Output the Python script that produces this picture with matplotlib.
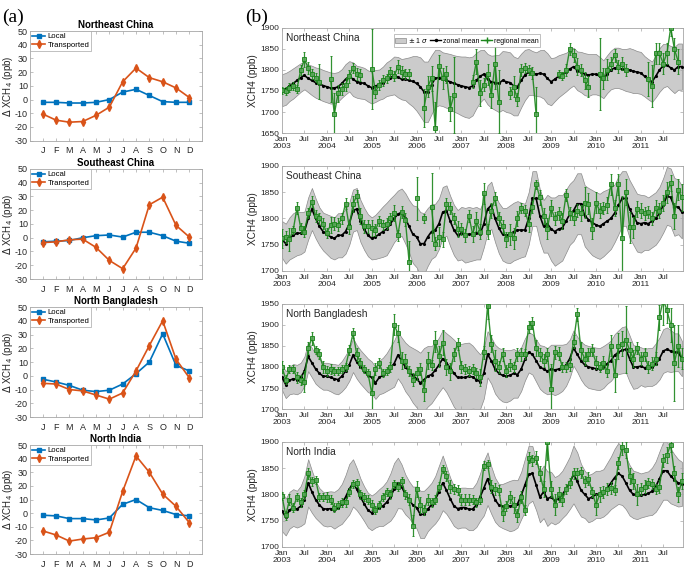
import numpy as np
import matplotlib.pyplot as plt
from matplotlib.patches import Patch
from matplotlib.lines import Line2D

plt.rcParams['font.family'] = ['Liberation Sans', 'DejaVu Sans']
plt.rcParams['axes.unicode_minus'] = False

nan = np.nan

# ---------------- (a) monthly anomalies ----------------
month_labels = ['J', 'F', 'M', 'A', 'M', 'J', 'J', 'A', 'S', 'O', 'N', 'D']
regions = ['Northeast China', 'Southeast China', 'North Bangladesh', 'North India']

local_ne = [-2, -2, -2.5, -2.5, -2, 0, 5.5, 7.5, 3, -1.5, -2, -2]
trans_ne = [-10.5, -15, -16.5, -16, -11.5, -5.5, 13, 23, 16, 13, 8.5, 1.5]
local_se = [-3, -2.5, -2, 0, 1.5, 2, 0.5, 4, 4, 1.5, -2.5, -4]
trans_se = [-3.5, -3, -1.5, -1, -7, -16.5, -22.5, -7.5, 24, 29.5, 9, 0.5]
local_bd = [-2.5, -4.5, -7, -10.5, -11.5, -10.5, -6, 1.5, 10, 30.5, 7.5, 3.5]
trans_bd = [-5.5, -6, -10, -11, -14, -17, -12.5, 3.5, 22, 40, 12, -1.5]
local_ni = [-1.5, -2, -4, -4, -5, -3.5, 6.5, 10, 4, 2, -1, -2]
trans_ni = [-13, -16, -20.5, -19, -18, -14, 16, 42, 30, 14, 5, -7]
trans_err = [1.5, 1.5, 1.5, 1.5, 1.5, 1.5, 1.5, 1.5, 1.5, 1.5, 1.5, 1.5]

local_all = [local_ne, local_se, local_bd, local_ni]
trans_all = [trans_ne, trans_se, trans_bd, trans_ni]

# ---------------- (b) time series, monthly Jan 2003 - Dec 2011 ----------------
years = list(range(2003, 2012))

zonal_ne = [1752, 1755, 1762, 1768, 1775, 1782, 1787, 1780, 1775, 1770, 1767, 1763,
            1760, 1757, 1757, 1760, 1768, 1778, 1785, 1778, 1772, 1770, 1768, 1762,
            1758, 1762, 1765, 1770, 1778, 1782, 1787, 1783, 1778, 1778, 1775, 1773,
            1768, 1760, 1748, 1748, 1765, 1780, 1782, 1778, 1775, 1772, 1768, 1765,
            1762, 1760, 1758, 1762, 1775, 1785, 1790, 1778, 1772, 1770, 1768, 1775,
            1772, 1770, 1762, 1760, 1775, 1788, 1795, 1793, 1790, 1792, 1790, 1780,
            1772, 1778, 1785, 1790, 1795, 1802, 1808, 1798, 1795, 1790, 1788, 1790,
            1790, 1785, 1778, 1790, 1800, 1805, 1805, 1802, 1800, 1800, 1797, 1795,
            1793, 1785, 1778, 1772, 1785, 1800, 1810, 1812, 1805, 1800, 1808, 1808]
sigma_ne = [38, 38, 36, 36, 35, 34, 33, 33, 35, 36, 37, 37,
            37, 37, 36, 35, 34, 36, 36, 40, 38, 38, 37, 37,
            38, 38, 36, 38, 40, 42, 45, 48, 48, 50, 55, 60,
            65, 70, 72, 72, 70, 68, 66, 64, 65, 66, 67, 68,
            70, 72, 72, 70, 66, 62, 58, 60, 62, 65, 68, 70,
            72, 72, 70, 68, 64, 60, 55, 52, 52, 55, 58, 60,
            56, 52, 50, 48, 46, 45, 45, 46, 48, 50, 50, 48,
            48, 46, 45, 45, 46, 48, 48, 48, 50, 52, 52, 50,
            50, 48, 48, 48, 50, 52, 52, 50, 52, 55, 55, 55]
region_ne = [1752, 1750, 1758, 1762, 1755, 1800, 1825, 1805, 1790, 1782, 1772, nan,
             nan, 1778, 1695, 1745, 1755, 1765, 1785, 1805, 1790, 1788, nan, nan,
             1803, 1748, 1765, 1775, 1780, 1795, 1785, 1808, 1795, 1790, 1790, nan,
             nan, nan, 1710, 1760, 1780, 1663, 1810, 1780, 1790, 1708, 1740, nan,
             nan, nan, nan, 1772, 1820, 1745, 1765, 1790, 1740, 1815, 1725, nan,
             nan, 1745, 1760, 1730, 1800, 1805, 1800, 1793, 1695, nan, nan, nan,
             nan, nan, 1790, 1785, 1800, 1850, 1835, 1808, 1800, 1775, 1760, nan,
             nan, 1790, 1780, 1800, 1815, 1835, 1808, 1815, 1800, nan, nan, nan,
             nan, nan, 1778, 1762, 1840, 1840, 1815, 1840, 1900, 1850, 1820, nan]
err_ne = [8, 10, 10, 10, 10, 12, 18, 15, 12, 10, 42, 0,
          0, 55, 50, 20, 15, 15, 15, 12, 15, 15, 0, 0,
          95, 15, 12, 12, 10, 12, 12, 15, 15, 12, 12, 0,
          0, 0, 45, 25, 30, 60, 25, 25, 20, 30, 90, 0,
          0, 0, 0, 15, 30, 30, 15, 25, 30, 60, 75, 0,
          0, 15, 25, 15, 15, 12, 12, 15, 65, 0, 0, 0,
          0, 0, 10, 10, 15, 15, 15, 20, 15, 20, 25, 0,
          0, 85, 25, 25, 15, 15, 15, 15, 15, 0, 0, 0,
          0, 0, 40, 50, 25, 25, 25, 25, 20, 25, 30, 0]

zonal_se = [1760, 1752, 1762, 1768, 1772, 1772, 1775, 1800, 1818, 1800, 1785, 1775,
            1770, 1765, 1762, 1768, 1768, 1775, 1790, 1815, 1818, 1795, 1780, 1768,
            1762, 1765, 1770, 1775, 1780, 1790, 1800, 1808, 1812, 1800, 1785, 1770,
            1765, 1752, 1752, 1765, 1775, 1778, 1790, 1812, 1815, 1795, 1778, 1768,
            1772, 1768, 1770, 1770, 1772, 1770, 1790, 1818, 1825, 1800, 1782, 1770,
            1768, 1770, 1775, 1778, 1778, 1778, 1800, 1838, 1838, 1805, 1785, 1790,
            1780, 1775, 1780, 1782, 1795, 1808, 1815, 1828, 1828, 1805, 1798, 1792,
            1788, 1785, 1790, 1795, 1800, 1810, 1825, 1838, 1838, 1818, 1805, 1792,
            1790, 1792, 1790, 1795, 1800, 1810, 1825, 1843, 1840, 1822, 1822, 1812]
sigma_se = [35, 38, 40, 42, 42, 40, 38, 40, 40, 38, 36, 36,
            38, 40, 40, 42, 42, 42, 40, 40, 40, 40, 40, 40,
            40, 42, 45, 48, 50, 48, 45, 45, 45, 48, 50, 55,
            58, 60, 58, 55, 52, 50, 48, 48, 48, 48, 48, 48,
            50, 52, 52, 50, 50, 48, 45, 45, 45, 45, 48, 50,
            52, 55, 55, 55, 52, 50, 50, 52, 52, 50, 50, 55,
            60, 65, 65, 62, 60, 58, 58, 58, 58, 58, 60, 62,
            62, 62, 62, 60, 58, 55, 55, 52, 52, 55, 55, 55,
            55, 52, 50, 50, 50, 50, 52, 55, 55, 55, 52, 50]
region_se = [1762, 1765, 1760, 1778, 1820, 1782, 1775, 1810, 1832, 1805, 1800, 1790,
             1772, 1788, 1790, 1788, 1800, 1828, 1783, 1828, 1843, 1805, 1785, 1785,
             1782, 1778, 1795, 1788, 1790, 1800, 1810, 1768, 1812, 1798, 1718, nan,
             1838, nan, 1800, nan, 1822, 1752, 1765, 1760, 1828, 1820, 1800, 1780,
             1780, 1768, 1805, 1770, 1795, 1775, 1848, 1775, 1815, 1838, 1800, 1785,
             1760, 1770, 1762, 1800, 1820, 1815, 1790, 1822, 1865, 1840, 1805, 1780,
             1820, 1800, 1810, 1795, 1845, 1810, 1800, 1815, 1810, 1830, 1828, 1780,
             1830, 1815, 1820, 1825, 1865, 1820, 1865, 1762, 1850, 1783, 1783, 1818,
             1815, 1810, 1812, 1800, 1820, 1815, 1830, 1850, 1868, 1805, 1855, 1840]
err_se = [18, 12, 22, 8, 12, 10, 10, 10, 10, 12, 10, 10,
          10, 15, 12, 12, 10, 10, 12, 15, 12, 15, 12, 12,
          15, 12, 10, 10, 10, 10, 15, 10, 12, 12, 40, 0,
          40, 0, 8, 0, 65, 12, 18, 15, 10, 12, 10, 15,
          12, 12, 12, 15, 18, 15, 20, 15, 15, 12, 12, 12,
          15, 20, 20, 15, 10, 10, 15, 12, 8, 15, 15, 20,
          15, 12, 12, 15, 12, 12, 12, 12, 15, 30, 20, 20,
          20, 15, 12, 15, 20, 15, 20, 80, 25, 30, 20, 15,
          15, 12, 12, 12, 15, 15, 15, 20, 15, 25, 20, 25]

zonal_bd = [1775, 1758, 1768, 1772, 1770, 1775, 1790, 1825, 1810, 1795, 1785, 1778,
            1778, 1775, 1772, 1770, 1778, 1790, 1805, 1828, 1812, 1800, 1790, 1780,
            1775, 1762, 1775, 1780, 1788, 1798, 1808, 1828, 1815, 1800, 1790, 1780,
            1772, 1762, 1770, 1778, 1782, 1792, 1805, 1820, 1810, 1798, 1785, 1775,
            1775, 1775, 1778, 1776, 1770, 1765, 1785, 1830, 1815, 1795, 1785, 1780,
            1778, 1780, 1785, 1782, 1795, 1818, 1835, 1830, 1815, 1800, 1795, 1790,
            1795, 1793, 1795, 1798, 1805, 1820, 1845, 1830, 1815, 1805, 1800, 1798,
            1796, 1795, 1800, 1808, 1815, 1828, 1835, 1840, 1842, 1820, 1800, 1800,
            1802, 1798, 1800, 1800, 1808, 1820, 1838, 1842, 1838, 1835, 1835, 1820]
sigma_bd = [30, 32, 33, 35, 35, 35, 35, 35, 35, 35, 33, 32,
            32, 33, 35, 35, 36, 38, 38, 40, 40, 40, 40, 40,
            38, 38, 40, 42, 45, 50, 55, 55, 55, 58, 60, 65,
            68, 72, 75, 72, 68, 65, 65, 68, 70, 75, 80, 80,
            80, 82, 80, 75, 70, 65, 60, 55, 55, 58, 60, 62,
            62, 60, 58, 55, 52, 50, 48, 48, 50, 52, 55, 55,
            58, 60, 58, 55, 50, 45, 42, 42, 45, 48, 50, 50,
            50, 50, 50, 48, 48, 50, 52, 55, 55, 55, 52, 50,
            45, 45, 45, 45, 48, 50, 52, 52, 50, 45, 45, 42]
region_bd = [1800, 1770, 1795, 1795, 1775, 1770, 1765, 1845, 1868, 1840, 1830, 1800,
             1790, 1795, 1790, 1790, 1795, 1800, 1840, 1880, 1830, 1810, 1795, 1785,
             1738, 1795, 1810, 1785, 1790, 1800, 1900, 1880, 1815, 1815, 1790, 1770,
             1785, 1795, 1745, 1815, 1805, 1860, 1825, 1858, 1800, 1790, 1830, 1855,
             1800, 1795, 1790, 1795, 1785, 1775, 1835, 1945, 1855, 1815, 1800, 1830,
             1790, 1805, 1800, 1830, 1830, 1830, 1895, 1905, 1845, 1830, 1815, 1830,
             1748, 1835, 1832, 1800, 1800, 1805, 1860, 1925, 1840, 1820, 1830, 1840,
             1810, 1800, 1810, 1790, 1850, 1780, 1850, 1855, 1865, 1840, 1820, 1845,
             1820, 1830, 1800, 1808, 1820, 1918, 1960, 1935, 1900, 1810, 1850, 1820]
err_bd = [15, 10, 10, 10, 12, 12, 25, 15, 15, 10, 12, 15,
          12, 12, 10, 10, 10, 10, 12, 12, 15, 12, 10, 10,
          40, 15, 12, 10, 10, 12, 25, 20, 20, 15, 12, 15,
          15, 15, 25, 20, 12, 25, 25, 30, 20, 20, 15, 15,
          15, 12, 12, 12, 12, 20, 15, 30, 20, 25, 15, 15,
          15, 15, 12, 15, 15, 12, 15, 15, 20, 15, 15, 15,
          60, 15, 15, 12, 12, 15, 15, 15, 20, 15, 15, 15,
          15, 12, 15, 15, 25, 40, 30, 30, 80, 20, 20, 15,
          15, 15, 15, 15, 15, 30, 60, 30, 40, 90, 50, 25]

zonal_ni = [1768, 1757, 1770, 1775, 1772, 1778, 1790, 1822, 1805, 1790, 1780, 1773,
            1772, 1773, 1770, 1775, 1782, 1795, 1810, 1822, 1810, 1795, 1782, 1770,
            1765, 1770, 1775, 1778, 1785, 1795, 1810, 1822, 1815, 1800, 1790, 1780,
            1775, 1762, 1762, 1772, 1780, 1790, 1805, 1822, 1808, 1792, 1778, 1773,
            1775, 1775, 1772, 1772, 1780, 1795, 1812, 1830, 1808, 1790, 1780, 1778,
            1778, 1778, 1780, 1782, 1798, 1818, 1838, 1840, 1818, 1795, 1805, 1792,
            1795, 1788, 1792, 1800, 1810, 1822, 1838, 1825, 1808, 1800, 1792, 1795,
            1800, 1800, 1803, 1812, 1822, 1832, 1840, 1835, 1822, 1808, 1800, 1798,
            1798, 1800, 1802, 1806, 1815, 1830, 1845, 1845, 1835, 1828, 1822, 1820]
sigma_ni = [38, 35, 35, 35, 35, 38, 45, 45, 40, 35, 32, 32,
            33, 33, 35, 35, 38, 42, 48, 45, 40, 35, 33, 33,
            33, 33, 35, 38, 40, 45, 50, 48, 42, 38, 35, 35,
            40, 45, 45, 42, 42, 45, 50, 52, 45, 40, 38, 38,
            38, 38, 40, 40, 42, 45, 52, 50, 45, 42, 40, 42,
            45, 48, 48, 45, 45, 50, 55, 52, 48, 48, 50, 52,
            48, 45, 45, 45, 48, 50, 55, 55, 50, 45, 45, 45,
            45, 45, 45, 48, 50, 55, 58, 55, 50, 48, 45, 45,
            42, 42, 42, 45, 48, 52, 55, 55, 52, 48, 45, 42]
region_ni = [1797, 1760, 1790, 1775, 1795, 1785, 1800, 1840, 1825, 1828, 1795, 1795,
             1795, 1790, 1775, 1780, 1785, 1785, 1805, 1820, 1822, 1800, 1795, 1790,
             1780, 1770, 1780, 1795, 1805, 1800, 1820, 1815, 1825, 1800, 1790, 1740,
             1810, 1780, 1770, 1790, 1785, 1790, 1815, 1848, 1835, 1815, 1810, 1808,
             1790, 1790, 1790, 1790, 1785, 1790, 1855, 1858, 1815, 1810, 1808, 1765,
             1778, 1795, 1780, 1760, 1795, 1770, 1870, 1865, 1870, 1840, 1810, 1900,
             1810, 1780, 1800, 1790, 1810, 1822, 1840, 1840, 1842, 1825, 1830, 1805,
             1780, 1800, 1805, 1810, 1812, 1808, 1860, 1890, 1885, 1835, 1825, 1800,
             1810, 1815, 1822, 1820, 1810, 1815, 1865, 1875, 1895, 1840, 1800, 1825]
err_ni = [8, 8, 10, 8, 8, 8, 8, 10, 8, 8, 8, 8,
          10, 8, 8, 8, 8, 8, 8, 8, 8, 8, 8, 8,
          10, 8, 8, 8, 8, 8, 8, 8, 8, 8, 10, 20,
          15, 15, 10, 10, 8, 8, 8, 8, 10, 12, 10, 10,
          10, 10, 10, 8, 8, 8, 8, 8, 12, 12, 10, 15,
          10, 12, 15, 12, 12, 10, 10, 10, 12, 15, 15, 35,
          15, 20, 15, 12, 10, 10, 10, 10, 10, 10, 12, 10,
          20, 15, 12, 12, 12, 10, 12, 15, 15, 15, 15, 20,
          12, 12, 10, 10, 10, 12, 12, 15, 15, 15, 15, 15]

zonal_all = [zonal_ne, zonal_se, zonal_bd, zonal_ni]
sigma_all = [sigma_ne, sigma_se, sigma_bd, sigma_ni]
region_all = [region_ne, region_se, region_bd, region_ni]
err_all = [err_ne, err_se, err_bd, err_ni]
ylims_b = [(1650, 1900), (1700, 1900), (1700, 1950), (1700, 1900)]

BLUE = '#0072BD'
ORANGE = '#D95319'
GREEN = '#1c861c'
SPINE = '#a6a6a6'
TXT = '#262626'

fig = plt.figure(figsize=(6.85, 5.68), dpi=100)

left_pos = [(0.0438, 0.7523, 0.2511, 0.1930), (0.0438, 0.5088, 0.2511, 0.1937),
            (0.0438, 0.2658, 0.2511, 0.1937), (0.0438, 0.0246, 0.2511, 0.1919)]
right_pos = [(0.4117, 0.7658, 0.5854, 0.185), (0.4117, 0.5229, 0.5854, 0.185),
             (0.4117, 0.2799, 0.5854, 0.185), (0.4117, 0.0370, 0.5854, 0.185)]


def style_axes(ax, size):
    for s in ax.spines.values():
        s.set_color(SPINE)
        s.set_linewidth(0.6)
    ax.tick_params(direction='in', length=2, width=0.5, color=SPINE,
                   labelcolor=TXT, labelsize=size, top=True, right=True, pad=2)


months = np.arange(1, 13)
for i in range(4):
    ax = fig.add_axes(left_pos[i])
    ax.plot(months, local_all[i], '-s', color=BLUE, ms=3.5, lw=1.2,
            mfc=BLUE, mec=BLUE, label='Local')
    ax.errorbar(months, trans_all[i], yerr=trans_err, fmt='-d', color=ORANGE,
                ms=4, lw=1.2, elinewidth=0.8, capsize=0, label='Transported')
    ax.set_xlim(0.05, 12.95)
    ax.set_ylim(-30, 50)
    ax.set_yticks(np.arange(-30, 51, 10))
    ax.set_xticks(months)
    ax.set_xticklabels(month_labels)
    ax.set_ylabel(r'$\Delta$ XCH$_4$ (ppb)', fontsize=7, color=TXT)
    ax.yaxis.set_label_coords(-0.09, 0.5)
    ax.set_title(regions[i], fontsize=7, fontweight='bold', pad=2, color='k')
    style_axes(ax, 6.5)
    ax.tick_params(axis='y', pad=1.5)
    ax.tick_params(axis='x', pad=4)
    leg = ax.legend(loc='upper left', fontsize=5.6, handlelength=1.7,
                    borderpad=0.25, labelspacing=0.1, handletextpad=0.3,
                    borderaxespad=0.0, fancybox=False, framealpha=1)
    leg.get_frame().set_edgecolor(SPINE)
    leg.get_frame().set_linewidth(0.5)

t = np.arange(len(zonal_ne))
tick_pos = np.arange(0, 108, 6)
tick_lab = []
for k in tick_pos:
    if k % 12 == 0:
        tick_lab.append('Jan\n%d' % years[k // 12])
    else:
        tick_lab.append('Jul')

for i in range(4):
    ax = fig.add_axes(right_pos[i])
    z = np.array(zonal_all[i], dtype=float)
    sg = np.array(sigma_all[i], dtype=float)
    ax.fill_between(t, z - sg, z + sg, facecolor='#cbcbcb', edgecolor='#8a8a8a',
                    linewidth=0.5, zorder=1)
    ax.plot(t, z, '-', color='k', lw=1.2, marker='.', ms=2.5, zorder=3)
    r = np.array(region_all[i], dtype=float)
    e = np.array(err_all[i], dtype=float)
    ax.errorbar(t, r, yerr=e, fmt='-s', color=GREEN, ms=3, mfc='#58a558',
                mec=GREEN, mew=0.7, lw=1.0, elinewidth=0.9, capsize=1.0,
                alpha=0.9, zorder=4)
    ax.set_xlim(0, 107.3)
    ax.set_ylim(*ylims_b[i])
    ax.set_yticks(np.arange(ylims_b[i][0], ylims_b[i][1] + 1, 50))
    ax.set_xticks(tick_pos)
    ax.set_xticklabels(tick_lab, linespacing=1.05)
    ax.set_ylabel('XCH4 (ppb)', fontsize=7.2, color=TXT, labelpad=2)
    ax.text(0.01, 0.95, regions[i], transform=ax.transAxes, fontsize=7.3,
            va='top', ha='left', color=TXT, zorder=6)
    style_axes(ax, 6)
    if i == 0:
        handles = [Patch(facecolor='#cbcbcb', edgecolor='#8a8a8a', lw=0.5),
                   Line2D([], [], color='k', lw=1.0, marker='.', ms=3),
                   Line2D([], [], color=GREEN, lw=1.0, marker='+', ms=5)]
        leg = ax.legend(handles, [r'$\pm$ 1 $\sigma$', 'zonal mean', 'regional mean'],
                        ncol=3, loc='upper left', bbox_to_anchor=(0.27, 0.975),
                        fontsize=5, handlelength=1.5, handletextpad=0.3,
                        columnspacing=0.3, borderpad=0.25, fancybox=False,
                        framealpha=1)
        leg.get_frame().set_edgecolor(SPINE)
        leg.get_frame().set_linewidth(0.5)
        leg.set_zorder(7)

fig.text(0.003, 0.985, '(a)', fontsize=14, family='Liberation Serif', va='top')
fig.text(0.358, 0.985, '(b)', fontsize=14, family='Liberation Serif', va='top')

fig.savefig('out.png', dpi=100)
